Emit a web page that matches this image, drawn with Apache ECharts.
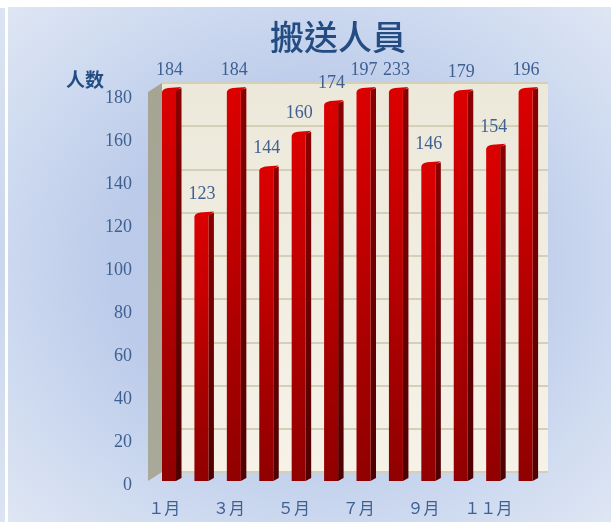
<!DOCTYPE html>
<html><head><meta charset="utf-8">
<style>
html,body{margin:0;padding:0;width:611px;height:522px;overflow:hidden;background:#fff}
#strip{position:absolute;left:0;top:8px;width:5px;height:514px;background:linear-gradient(180deg,#dce4f3,#c9d6ee 50%,#dce4f3)}
#panel{position:absolute;left:8px;top:7px;width:603px;height:515px;background:radial-gradient(ellipse 72% 72% at 50% 50%,#b4c6e8 0%,#bccbea 45%,#cfdbf0 75%,#e0e7f4 100%)}
#c{position:absolute;left:0;top:0;width:611px;height:522px}
</style>
<script src="https://cdn.jsdelivr.net/npm/echarts@6/dist/echarts.min.js"></script>
</head><body>
<div id="strip"></div><div id="panel"></div><div id="c"></div>
<script>
var chartTitle = '搬送人員';
var axisName = '人数';
var months = ['１月','２月','３月','４月','５月','６月','７月','８月','９月','１０月','１１月','１２月'];
var people = [184,123,184,144,160,174,197,233,146,179,154,196];
var axisMax = 180;
var axisStep = 20;

var serif = '"Liberation Serif","Noto Sans CJK TC",serif';
var textBlue = '#3f6192';
var chart = echarts.init(document.getElementById('c'), null, {renderer:'canvas'});

function renderBar(params, api){
  var i = api.value(0), v = api.value(1);
  var top = api.coord([i, Math.min(v, axisMax)]);
  var base = api.coord([i, 0]);
  var cx = top[0], y0 = top[1], y1 = base[1];
  var l = cx - 9.5, m = cx + 4.5, r = cx + 10;
  return {type:'group', children:[
    {type:'polygon', shape:{points:[[m,y0+2],[r,y0],[r,y1-3],[m,y1]]},
     style:{fill:{type:'linear',x:0,y:0,x2:0,y2:1,colorStops:[{offset:0,color:'#8a0000'},{offset:1,color:'#4e0000'}]}}},
    {type:'polygon', shape:{points:[[l,y0+4],[l+1,y0+2],[l+3,y0+0.8],[l+6,y0],[r,y0-1],[m,y0+3],[m,y1],[l,y1]]},
     style:{fill:{type:'linear',x:0,y:0,x2:0,y2:1,colorStops:[{offset:0,color:'#dc0000'},{offset:0.35,color:'#c40000'},{offset:0.7,color:'#a50000'},{offset:1,color:'#910000'}]}}},
    {type:'text', style:{text:String(v), x:cx-2, y:y0-18, textAlign:'center', textVerticalAlign:'middle',
       font:'18px '+serif, fill:textBlue}}
  ]};
}
function renderWall(params, api){
  var a = api.coord([0, axisMax]), b = api.coord([0, 0]);
  var x0 = a[0] - 23.5, x1 = a[0] - 9.5;
  return {type:'polygon', shape:{points:[[x0,a[1]+4],[x1,a[1]-5],[x1,b[1]-9],[x0,b[1]]]},
    style:{fill:{type:'linear',x:0,y:0,x2:0,y2:1,colorStops:[{offset:0,color:'#a6a594'},{offset:1,color:'#a9a999'}]}}};
}

chart.setOption({
  animation:false,
  title:{text:chartTitle,left:333,top:15,textAlign:'center',
    textStyle:{fontFamily:'"Noto Sans CJK TC"',fontSize:34,fontWeight:500,color:'#234d82'}},
  grid:[
    {left:162,right:63,top:83,bottom:50,show:true,borderWidth:0,
     backgroundColor:{type:'linear',x:0,y:0,x2:0,y2:1,colorStops:[{offset:0,color:'#ece8da'},{offset:1,color:'#f6f2e8'}]}},
    {left:155.3,right:66.7,top:88,bottom:41},
    {left:148,right:74,top:98,bottom:36.5}
  ],
  xAxis:[
    {gridIndex:0,type:'category',data:months,show:false},
    {gridIndex:1,type:'category',data:months,show:false},
    {gridIndex:2,type:'category',data:months,
     axisLine:{show:false},axisTick:{show:false},
     axisLabel:{interval:1,margin:16,fontFamily:serif,fontSize:16,color:textBlue,hideOverlap:false}}
  ],
  yAxis:[
    {gridIndex:0,type:'value',min:0,max:axisMax,interval:axisStep,
     axisLine:{show:false},axisTick:{show:false},axisLabel:{show:false},
     splitLine:{show:true,lineStyle:{color:'#d3d0b8',width:2}}},
    {gridIndex:1,type:'value',min:0,max:axisMax,interval:axisStep,show:false,splitLine:{show:false}},
    {gridIndex:2,type:'value',min:0,max:axisMax,interval:axisStep,
     name:axisName,nameLocation:'end',nameGap:-4,
     nameTextStyle:{fontFamily:'"Noto Sans CJK TC"',fontSize:19,fontWeight:'bold',color:'#234d82',align:'right',verticalAlign:'middle',padding:[0,44,0,0]},
     axisLine:{show:false},axisTick:{show:false},splitLine:{show:false},
     axisLabel:{margin:16,fontFamily:serif,fontSize:18,color:textBlue}}
  ],
  series:[
    {type:'custom',name:'壁',xAxisIndex:1,yAxisIndex:1,renderItem:renderWall,data:[[0,0]],silent:true,z:1,clip:false},
    {type:'custom',name:chartTitle,xAxisIndex:1,yAxisIndex:1,renderItem:renderBar,clip:false,z:3,
     encode:{x:0,y:1},
     data:people.map(function(v,i){return [i,v];})}
  ]
});
</script>
</body></html>
